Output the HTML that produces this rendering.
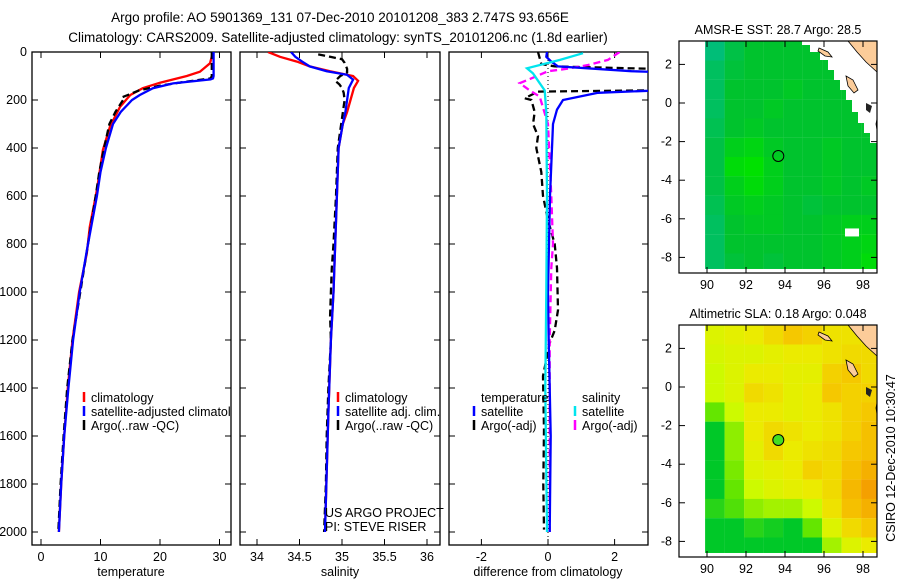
<!DOCTYPE html>
<html><head><meta charset="utf-8">
<style>
html,body{margin:0;padding:0;background:#fff;}
svg{display:block;font-family:"Liberation Sans",sans-serif;}
text{font-size:12.5px;fill:#000;}
</style></head>
<body>
<svg id="fig" width="900" height="580" viewBox="0 0 900 580">
<defs>
<clipPath id="c1"><rect x="32" y="52" width="199" height="493"/></clipPath>
<clipPath id="c2"><rect x="240" y="52" width="200" height="493"/></clipPath>
<clipPath id="c3"><rect x="449" y="52" width="199" height="493"/></clipPath>
<clipPath id="cm1"><rect x="679" y="41" width="198" height="232"/></clipPath>
<clipPath id="cm2"><rect x="679" y="325" width="198" height="232"/></clipPath>
</defs>
<text x="340" y="22" text-anchor="middle" style="font-size:13.5px">Argo profile: AO 5901369_131 07-Dec-2010 20101208_383 2.747S 93.656E</text>
<text x="338" y="42" text-anchor="middle" style="font-size:13.5px">Climatology: CARS2009. Satellite-adjusted climatology: synTS_20101206.nc (1.8d earlier)</text>
<g id="layer"></g>
</svg>
<script>
// ---- temperature profiles ----
const tClimDepth = [0,47,82,100,128,151,179,228,311,408,575,728,839,1000,1200,1400,1600,1800,2000];
const tClimVal   = [28.9,28.4,26.7,24.5,20,17.1,15,13.3,11.6,10.4,9.4,8.2,7.7,6.4,5.3,4.5,3.9,3.4,3.0];
const tSatDepth  = [0,60,100,110,114,131,151,179,200,250,300,400,500,600,800,1000,1200,1400,1600,1800,2000];
const tSatVal    = [29.0,29.0,29.0,28.9,28.5,22.2,18.8,16.6,15.3,13.4,12.1,10.9,10.0,9.4,7.9,6.5,5.4,4.6,3.9,3.4,3.0];
const tArgoDepth = [0,60,100,110,125,140,160,189,200,250,300,400,500,600,800,1000,1200,1400,1600,1800,2000];
const tArgoVal   = [28.7,28.7,28.7,28.5,24,20,16.5,13.6,13.8,12.5,11.5,10.6,9.8,9.2,7.9,6.6,5.3,4.4,3.8,3.3,2.9];
// ---- salinity profiles ----
const sClimDepth = [0,20,40,60,80,100,120,150,200,250,300,400,600,800,1000,1200,1500,2000];
const sClimVal   = [34.13,34.27,34.47,34.62,34.86,35.13,35.19,35.14,35.1,35.06,35.01,34.96,34.94,34.92,34.9,34.87,34.84,34.8];
const sSatDepth  = [0,20,40,60,80,95,115,150,200,250,300,400,600,800,1000,1200,1500,2000];
const sSatVal    = [34.40,34.45,34.53,34.62,34.82,35.06,35.13,35.08,35.06,35.04,35.01,34.96,34.94,34.92,34.9,34.87,34.84,34.8];
const sArgoDepth = [10,20,30,45,70,85,100,110,120,135,150,170,200,300,400,600,800,900,1000,1100,1200,1400,1600,1800,2000];
const sArgoVal   = [34.72,34.86,35.0,35.03,35.06,35.06,34.98,34.95,34.92,34.97,35.0,35.02,35.03,34.99,34.95,34.93,34.9,34.88,34.87,34.86,34.87,34.84,34.82,34.81,34.79];
// ---- differences from climatology ----
const dTSatDepth = [0,20,40,60,80,95,145,170,200,240,300,600,800,1000,1200,1400,1600,2000];
const dTSatVal   = [-0.03,-0.05,0.1,0.3,2.5,6,6,1.5,0.45,0.27,0.15,0.06,0.03,0.0,0.02,0.05,0.08,0.05];
const dTArgoDepth= [0,50,60,80,155,165,193,200,250,300,350,400,500,600,700,800,900,1075,1160,1212,1350,1575,1800,1990];
const dTArgoVal  = [-0.3,-0.2,0.2,6,6,-0.3,-0.7,-0.5,-0.4,-0.45,-0.3,-0.35,-0.2,-0.15,0.0,0.2,0.27,0.3,0.2,0.05,-0.15,-0.12,-0.14,-0.12];
const dSSatDepth = [5,33,68,89,130,160,250,600,1000,1400,2000];
const dSSatVal   = [1.05,0.36,-0.63,-0.45,-0.25,-0.1,-0.05,-0.03,-0.05,-0.08,-0.03];
const dSArgoDepth= [0,33,54,70,80,100,130,160,186,300,600,800,900,1200,1600,2000];
const dSArgoVal  = [2.15,1.8,1.2,0.57,0.0,-0.33,-0.85,-0.55,-0.25,0.0,0.1,0.15,0.1,0.05,0.05,0.05];
// ---- maps (1 degree cells, rows from north 3.2N, cols from 89.9E) ----
const sstRows = [
 [28.2,28.4,28.5,28.5,28.5,28.5,28.5,28.5,28.5],
 [28.3,28.45,28.5,28.5,28.5,28.5,28.5,28.5,28.5],
 [28.3,28.5,28.5,28.5,28.55,28.5,28.5,28.5,28.5],
 [28.3,28.5,28.5,28.55,28.5,28.5,28.5,28.5,28.5],
 [28.35,28.5,28.55,28.5,28.5,28.5,28.5,28.5,28.5],
 [28.4,28.6,28.65,28.55,28.5,28.5,28.55,28.5,28.5],
 [28.4,28.7,28.75,28.6,28.5,28.5,28.55,28.5,28.5],
 [28.4,28.6,28.7,28.6,28.5,28.5,28.55,28.5,28.55],
 [28.35,28.55,28.6,28.55,28.5,28.45,28.5,28.5,28.5],
 [28.3,28.5,28.55,28.55,28.5,28.5,28.55,28.6,28.6],
 [28.3,28.5,28.5,28.5,28.5,28.5,28.55,28.6,28.65],
 [28.3,28.45,28.5,28.45,28.5,28.5,28.55,28.6,28.7]];
const slaRows = [
 [0.12,0.13,0.14,0.16,0.18,0.17,0.15,0.15,0.15],
 [0.11,0.12,0.12,0.13,0.14,0.14,0.15,0.16,0.16],
 [0.10,0.12,0.14,0.14,0.13,0.13,0.17,0.18,0.16],
 [0.10,0.12,0.16,0.15,0.13,0.14,0.18,0.17,0.17],
 [0.05,0.10,0.14,0.14,0.13,0.14,0.15,0.17,0.18],
 [0.0,0.07,0.14,0.16,0.15,0.14,0.15,0.17,0.19],
 [0.0,0.07,0.13,0.16,0.14,0.15,0.16,0.18,0.19],
 [0.0,0.06,0.12,0.13,0.14,0.17,0.16,0.19,0.21],
 [0.0,0.05,0.10,0.12,0.13,0.14,0.16,0.20,0.23],
 [0.02,0.04,0.07,0.08,0.08,0.10,0.15,0.19,0.21],
 [0.0,0.0,0.02,0.01,0.0,0.05,0.12,0.16,0.18],
 [-0.02,-0.03,-0.03,-0.04,-0.03,0.0,0.08,0.12,0.14]];
const depthTicks = [0,200,400,600,800,1000,1200,1400,1600,1800,2000];
const tempTicks = [0,10,20,30];
const salTicks = [34,34.5,35,35.5,36];
const salTickLabels = ["34","34.5","35","35.5","36"];
const diffTicks = [-2,0,2];
const lonTicks = [90,92,94,96,98];
const latTicks = [2,0,-2,-4,-6,-8];

const NS="http://www.w3.org/2000/svg";
const layer=document.getElementById('layer');
function mk(tag,attrs,parent){const e=document.createElementNS(NS,tag);for(const k in attrs)e.setAttribute(k,attrs[k]);(parent||layer).appendChild(e);return e;}
const yD = d => 52 + d*0.24;
const xT = v => 41 + v*5.95;
const xS = v => 257 + (v-34)*85;
const xDf = v => 548 + v*33.3;

function panel(x,w,name){
  const r=mk('rect',{x:x,y:52,width:w,height:493,fill:'none',stroke:'#000','stroke-width':1.3});
  
  
  depthTicks.forEach(d=>{const y=yD(d);
    mk('line',{x1:x,y1:y,x2:x+6,y2:y,stroke:'#000'});
    mk('line',{x1:x+w,y1:y,x2:x+w-6,y2:y,stroke:'#000'});});
}
function xticks(arr,fx,labels){
  arr.forEach((v,i)=>{const x=fx(v);
    mk('line',{x1:x,y1:545,x2:x,y2:539,stroke:'#000'});
    mk('line',{x1:x,y1:52,x2:x,y2:58,stroke:'#000'});
    const t=mk('text',{x:x,y:561,'text-anchor':'middle'});t.textContent=labels?labels[i]:String(v);
    
    });
}
function line(depths,vals,fx,color,clip,name,dash){
  const pts=depths.map((d,i)=>fx(vals[i]).toFixed(1)+','+yD(d).toFixed(1)).join(' ');
  const p=mk('polyline',{points:pts,fill:'none',stroke:color,'stroke-width':2.3,'clip-path':'url(#'+clip+')'});
  if(dash)p.setAttribute('stroke-dasharray','7,4');
  
  
}
function legend(x,y,color,label,name,clip){
  mk('line',{x1:x,y1:y-10,x2:x,y2:y,stroke:color,'stroke-width':2.5});
  const t=mk('text',{x:x+7,y:y});t.textContent=label;
  if(clip)t.setAttribute('clip-path','url(#'+clip+')');
  
  
}
// panel 1
panel(32,199,'temperature-panel');
depthTicks.forEach(d=>{const t=mk('text',{x:27,y:yD(d)+4,'text-anchor':'end'});t.textContent=String(d);
  
  });
xticks(tempTicks,xT);
line(tClimDepth,tClimVal,xT,'#ff0000','c1','temp-climatology-line');
line(tArgoDepth,tArgoVal,xT,'#000','c1','temp-argo-line',true);
line(tSatDepth,tSatVal,xT,'#0000ff','c1','temp-satellite-line');
legend(84,402,'#ff0000','climatology','legend-climatology','c1');
legend(84,416,'#0000ff','satellite-adjusted climatology','legend-satellite','c1');
legend(84,430,'#000','Argo(..raw -QC)','legend-argo','c1');
let lt=mk('text',{x:131,y:576,'text-anchor':'middle'});lt.textContent='temperature';


// panel 2
panel(240,200,'salinity-panel');
xticks(salTicks,xS,salTickLabels);
line(sClimDepth,sClimVal,xS,'#ff0000','c2','sal-climatology-line');
line(sArgoDepth,sArgoVal,xS,'#000','c2','sal-argo-line',true);
line(sSatDepth,sSatVal,xS,'#0000ff','c2','sal-satellite-line');
legend(338,402,'#ff0000','climatology','legend2-climatology');
legend(338,416,'#0000ff','satellite adj. clim.','legend2-satellite');
legend(338,430,'#000','Argo(..raw -QC)','legend2-argo');
let pr=mk('text',{x:325,y:517});pr.textContent='US ARGO PROJECT';


let pi=mk('text',{x:325,y:531});pi.textContent='PI: STEVE RISER';


lt=mk('text',{x:340,y:576,'text-anchor':'middle'});lt.textContent='salinity';


// panel 3
panel(449,199,'difference-panel');
xticks(diffTicks,xDf);
mk('line',{x1:548,y1:52,x2:548,y2:545,stroke:'#000','stroke-width':1,'stroke-dasharray':'1,3'});
line(dTArgoDepth,dTArgoVal,xDf,'#000','c3','diff-temp-argo-line',true);
line(dSArgoDepth,dSArgoVal,xDf,'#ff00ff','c3','diff-sal-argo-line',true);
line(dTSatDepth,dTSatVal,xDf,'#0000ff','c3','diff-temp-satellite-line');
line(dSSatDepth,dSSatVal,xDf,'#00e5ee','c3','diff-sal-satellite-line');
let tt=mk('text',{x:481,y:402});tt.textContent='temperature';


let st=mk('text',{x:582,y:402});st.textContent='salinity';


legend(474,416,'#0000ff','satellite','legend3-temp-satellite');
legend(474,430,'#000','Argo(-adj)','legend3-temp-argo');
legend(575,416,'#00e5ee','satellite','legend3-sal-satellite');
legend(575,430,'#ff00ff','Argo(-adj)','legend3-sal-argo');
lt=mk('text',{x:548,y:576,'text-anchor':'middle'});lt.textContent='difference from climatology';



// ---- maps ----
function lerpCol(stops,v){
  if(v<=stops[0][0])return 'rgb('+stops[0][1].join(',')+')';
  for(let i=1;i<stops.length;i++){if(v<=stops[i][0]){const a=stops[i-1],b=stops[i],f=(v-a[0])/(b[0]-a[0]);
    return 'rgb('+a[1].map((c,k)=>Math.round(c+(b[1][k]-c)*f)).join(',')+')';}}
  return 'rgb('+stops[stops.length-1][1].join(',')+')';
}
const sstStops=[[28.2,[0,190,120]],[28.5,[0,195,45]],[28.75,[0,225,0]]];
const slaStops=[[0,[0,200,40]],[0.05,[100,230,0]],[0.1,[205,250,0]],[0.14,[235,235,0]],[0.18,[245,200,0]],[0.23,[245,160,0]]];
function map(top,lat0y,rows,stops,clip,name,title,markerFill){
  const xL=lon=>707+(lon-90)*19.5, yL=lat=>lat0y-lat*19.3;
  const g=mk('g',{'clip-path':'url(#'+clip+')'});
  
  
  rows.forEach((row,r)=>row.forEach((v,c)=>{
    const x=xL(89.9+c), y=yL(3.2-r);
    const cell=mk('rect',{x:x.toFixed(1),y:y.toFixed(1),width:19.6,height:19.4,fill:lerpCol(stops,v)},g);
    
    
  }));
  mk('rect',{x:679,y:yL(-8.6),width:198,height:20,fill:'#fff'},g);
  const o=top-41;
  if(name==='sst-map'){
    mk('polygon',{points:`802,41 877,41 877,143 870,143 870,133 864,133 864,123 858,123 858,112 852,112 852,100 846,100 846,90 840,90 840,80 834,80 834,70 828,70 828,60 820,60 820,52 810,52 810,45 802,45`,fill:'#fff'},g);
    mk('rect',{x:845,y:yL(-6.5),width:14,height:8,fill:'#fff'},g);}
  mk('polygon',{points:`848,${41+o} 857,${52+o} 866,${62+o} 877,${72+o} 877,${41+o}`,fill:'#fccc99',stroke:'#000','stroke-width':0.8},g);
  mk('polygon',{points:`819,${48+o} 828,${52+o} 832,${57+o} 825,${56+o} 818,${51+o}`,fill:'#fccc99',stroke:'#000','stroke-width':0.8},g);
  mk('polygon',{points:`846,${76+o} 853,${80+o} 858,${90+o} 854,${93+o} 848,${86+o}`,fill:'#fccc99',stroke:'#000','stroke-width':0.8},g);
  mk('polygon',{points:`866,${103+o} 872,${106+o} 870,${113+o} 866,${110+o}`,fill:'#222'},g);
  mk('polygon',{points:`876,${124+o} 877,${119+o} 877,${130+o}`,fill:'#fccc99',stroke:'#000','stroke-width':0.8},g);
  const fr=mk('rect',{x:679,y:top,width:198,height:232,fill:'none',stroke:'#000','stroke-width':1.2});
  
  
  lonTicks.forEach(l=>{const x=xL(l);mk('line',{x1:x,y1:top+232,x2:x,y2:top+226,stroke:'#000'});mk('line',{x1:x,y1:top,x2:x,y2:top+6,stroke:'#000'});
    const t=mk('text',{x:x,y:top+248,'text-anchor':'middle'});t.textContent=String(l);
    
    });
  latTicks.forEach(l=>{const y=yL(l);mk('line',{x1:679,y1:y,x2:685,y2:y,stroke:'#000'});mk('line',{x1:877,y1:y,x2:871,y2:y,stroke:'#000'});
    const t=mk('text',{x:672,y:y+4,'text-anchor':'end'});t.textContent=String(l);
    
    });
  const ti=mk('text',{x:778,y:top-7,'text-anchor':'middle'});ti.textContent=title;
  
  
  const c=mk('circle',{cx:xL(93.656),cy:yL(-2.747),r:5.5,fill:markerFill,stroke:'#000','stroke-width':1});
  
  
}
map(41,103,sstRows,sstStops,'cm1','sst-map','AMSR-E SST: 28.7 Argo: 28.5','none');
map(325,387,slaRows,slaStops,'cm2','sla-map','Altimetric SLA: 0.18 Argo: 0.048','#44dd22');
const cs=mk('text',{x:895,y:458,'text-anchor':'middle',transform:'rotate(-90 895 458)'});cs.textContent='CSIRO 12-Dec-2010 10:30:47';


</script>
</body></html>
